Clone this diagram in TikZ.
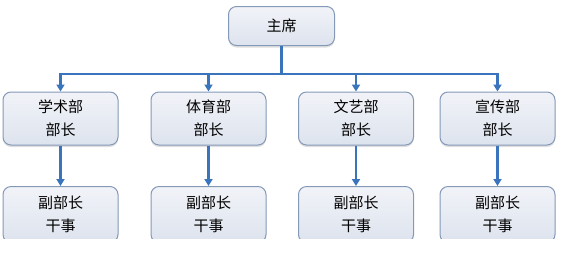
\documentclass[tikz,border=0pt]{standalone}
\usepackage{fontspec}
\setmainfont{Noto Sans CJK SC}
\usetikzlibrary{arrows.meta,shadows}
\definecolor{lineblue}{HTML}{3A74BC}
\definecolor{boxborder}{HTML}{8499B8}
\definecolor{boxtop}{HTML}{F1F3F8}
\definecolor{boxbot}{HTML}{DDE3EE}
\tikzset{
  orgbox/.style={draw=boxborder, line width=1pt, rounded corners=8pt,
    top color=boxtop, bottom color=boxbot, align=center,
    font=\fontsize{15}{23}\selectfont, inner sep=0pt,
    drop shadow={opacity=0.25, shadow xshift=0pt, shadow yshift=-2pt}},
  conn/.style={draw=lineblue, line width=2.2pt},
  arr/.style={conn, -{Triangle[width=8pt,length=7pt]}}
}
\begin{document}
\begin{tikzpicture}[x=1pt,y=-1pt]
\useasboundingbox (0,0) rectangle (570,269);
\node[orgbox, minimum width=106pt, minimum height=39pt] (top) at (281.5,26) {主席};
\foreach \n/\x/\t in {d1/60.5/学术部, d2/208.5/体育部, d3/356/文艺部, d4/497.5/宣传部}{
  \node[orgbox, minimum width=115pt, minimum height=53pt] (\n) at (\x,118.5) {\t\\部长};
}
\begin{scope}
\clip (0,0) rectangle (570,238.5);
\foreach \n/\x in {e1/60.5, e2/208.5, e3/356, e4/497.5}{
  \node[orgbox, minimum width=115pt, minimum height=56pt, anchor=north] (\n) at (\x,186) {副部长\\干事};
}
\end{scope}
\coordinate (bus) at (0,74);
\draw[conn] (top.south) -- (top.south |- bus);
\draw[conn] ([xshift=-1.1pt]d1.north |- bus) -- ([xshift=1.1pt]d4.north |- bus);
\foreach \n in {d1,d2,d3,d4}{
  \draw[arr] (\n.north |- bus) -- (\n.north);
}
\foreach \a/\b in {d1/e1,d2/e2,d3/e3,d4/e4}{
  \draw[arr] (\a.south) -- (\b.north);
}
\end{tikzpicture}
\end{document}
